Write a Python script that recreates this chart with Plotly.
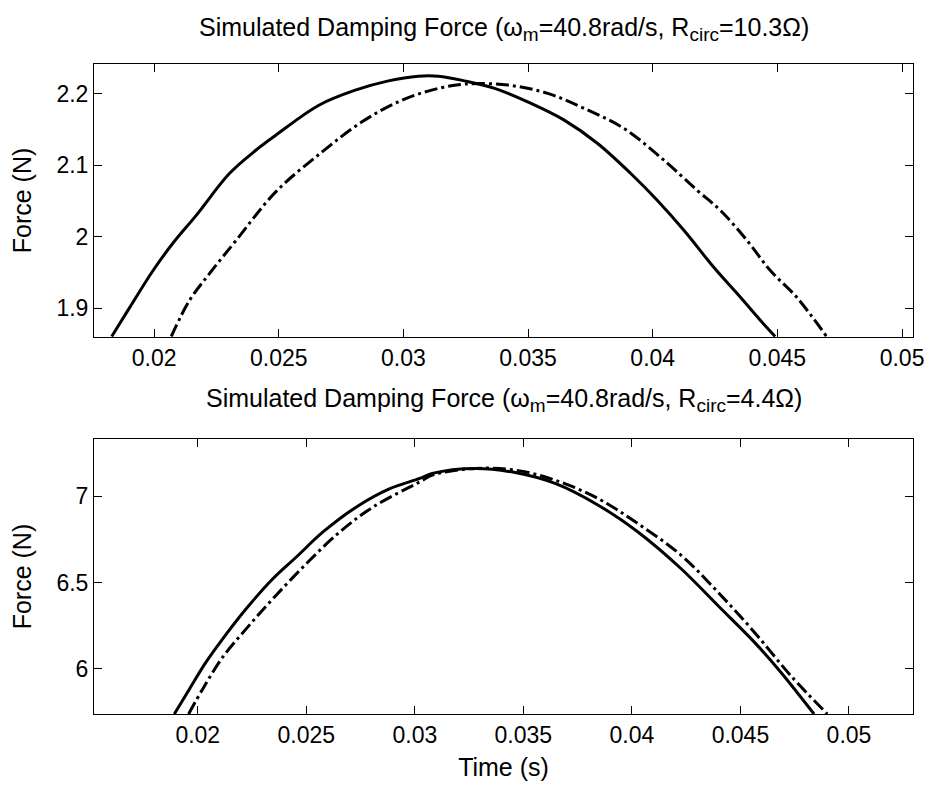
import plotly.graph_objects as go

# ---- Upper panel: R_circ = 10.3 Ohm ----
t_top_solid = [0.0183, 0.01903, 0.01996, 0.02076, 0.02169, 0.02302, 0.02408, 0.02488,
               0.02661, 0.02807, 0.0294, 0.0306, 0.0314, 0.03246, 0.03366, 0.03512,
               0.03645, 0.03779, 0.03912, 0.04018, 0.04125, 0.04244, 0.04351, 0.04444, 0.04491]
f_top_solid = [1.8608, 1.9018, 1.953, 1.9914, 2.030, 2.0885, 2.121, 2.142,
               2.184, 2.205, 2.218, 2.2245, 2.2245, 2.218, 2.2075, 2.1865,
               2.1631, 2.1305, 2.0885, 2.0511, 2.0091, 1.9578, 1.9158, 1.8785, 1.8608]

t_top_dash = [0.02069, 0.02142, 0.02222, 0.02329, 0.02488, 0.02674, 0.02834, 0.0298,
              0.03113, 0.03246, 0.03419, 0.03579, 0.03725, 0.03885, 0.04045, 0.04178,
              0.04271, 0.04378, 0.04471, 0.04577, 0.04697]
f_top_dash = [1.8608, 1.9111, 1.9485, 1.9951, 2.0628, 2.1188, 2.1608, 2.1888,
              2.2051, 2.2135, 2.2121, 2.2005, 2.1795, 2.1515, 2.1071, 2.0651,
              2.0371, 1.9951, 1.9532, 1.9158, 1.8608]

# ---- Lower panel: R_circ = 4.4 Ohm ----
t_bot_solid = [0.01892, 0.01962, 0.02038, 0.02115, 0.02223, 0.02346, 0.02454, 0.02577,
               0.02731, 0.02885, 0.03023, 0.0308, 0.03279, 0.03462, 0.03646, 0.03845,
               0.04028, 0.04227, 0.04396, 0.04564, 0.04686, 0.04839]
f_bot_solid = [5.739, 5.884, 6.039, 6.174, 6.348, 6.522, 6.648, 6.793,
               6.938, 7.044, 7.103, 7.132, 7.161, 7.137, 7.074, 6.948,
               6.793, 6.580, 6.367, 6.155, 5.981, 5.739]

t_bot_dash = [0.01958, 0.02023, 0.02115, 0.02223, 0.02346, 0.025, 0.02654, 0.02808,
              0.03023, 0.0308, 0.03279, 0.03462, 0.03646, 0.03845, 0.04028, 0.04227,
              0.04396, 0.04564, 0.04732, 0.049]
f_bot_dash = [5.739, 5.884, 6.068, 6.232, 6.406, 6.609, 6.793, 6.938,
              7.083, 7.122, 7.161, 7.151, 7.093, 6.986, 6.841, 6.658,
              6.445, 6.213, 5.961, 5.739]

# ---- Tick labels ----
top_xticks = [0.02, 0.025, 0.03, 0.035, 0.04, 0.045, 0.05]
top_xlabels = ["0.02", "0.025", "0.03", "0.035", "0.04", "0.045", "0.05"]
top_yticks = [1.9, 2.0, 2.1, 2.2]
top_ylabels = ["1.9", "2", "2.1", "2.2"]
bot_xticks = [0.02, 0.025, 0.03, 0.035, 0.04, 0.045, 0.05]
bot_xlabels = ["0.02", "0.025", "0.03", "0.035", "0.04", "0.045", "0.05"]
bot_yticks = [6.0, 6.5, 7.0]
bot_ylabels = ["6", "6.5", "7"]

SUB = "<sub><span style='font-size:19px'>{}</span></sub>"
top_title = ("Simulated Damping Force (ω" + SUB.format("m") + "=40.8rad/s, R"
             + SUB.format("circ") + "=10.3Ω)")
bot_title = ("Simulated Damping Force (ω" + SUB.format("m") + "=40.8rad/s, R"
             + SUB.format("circ") + "=4.4Ω)")

FONT = "Liberation Sans, Arial, sans-serif"
TICK_SIZE = 23
LABEL_SIZE = 25
TITLE_SIZE = 25

solid = dict(color="black", width=3)
dashdot = dict(color="black", width=3, dash="13px,4px,3px,4px")

fig = go.Figure()
fig.add_trace(go.Scatter(x=t_top_solid, y=f_top_solid, mode="lines", line=solid,
                         line_shape="spline", xaxis="x", yaxis="y"))
fig.add_trace(go.Scatter(x=t_top_dash, y=f_top_dash, mode="lines", line=dashdot,
                         line_shape="spline", xaxis="x", yaxis="y"))
fig.add_trace(go.Scatter(x=t_bot_solid, y=f_bot_solid, mode="lines", line=solid,
                         line_shape="spline", xaxis="x2", yaxis="y2"))
fig.add_trace(go.Scatter(x=t_bot_dash, y=f_bot_dash, mode="lines", line=dashdot,
                         line_shape="spline", xaxis="x2", yaxis="y2"))

axis_common = dict(showline=True, linecolor="black", linewidth=1, mirror="ticks",
                   ticks="inside", ticklen=8, tickwidth=1, tickcolor="black",
                   showgrid=False, zeroline=False,
                   tickfont=dict(family=FONT, size=TICK_SIZE, color="black"))

plot_h = 789 - 64 - 75

fig.update_layout(
    width=936, height=789,
    margin=dict(l=94, r=19, t=64, b=75),
    paper_bgcolor="white", plot_bgcolor="white",
    showlegend=False,
    font=dict(family=FONT, color="black"),
    xaxis=dict(domain=[0, 1], anchor="y", range=[0.01759, 0.05044],
               tickvals=top_xticks, ticktext=top_xlabels, **axis_common),
    yaxis=dict(domain=[0.58, 1.0], anchor="x", range=[1.860, 2.2416],
               tickvals=top_yticks, ticktext=top_ylabels, ticklabelstandoff=0,
               title=dict(text="Force (N)", font=dict(family=FONT, size=LABEL_SIZE), standoff=17),
               **axis_common),
    xaxis2=dict(domain=[0, 1], anchor="y2", range=[0.01522, 0.05295],
                tickvals=bot_xticks, ticktext=bot_xlabels,
                title=dict(text="Time (s)", font=dict(family=FONT, size=LABEL_SIZE), standoff=11),
                **axis_common),
    yaxis2=dict(domain=[0, 0.423], anchor="x2", range=[5.739, 7.331],
                tickvals=bot_yticks, ticktext=bot_ylabels, ticklabelstandoff=0,
                title=dict(text="Force (N)", font=dict(family=FONT, size=LABEL_SIZE), standoff=17),
                **axis_common),
    annotations=[
        dict(text=top_title, x=0.5, y=(714 - 29) / plot_h, xref="paper", yref="paper",
             yanchor="middle", showarrow=False, font=dict(family=FONT, size=TITLE_SIZE)),
        dict(text=bot_title, x=0.5, y=(714 - 400) / plot_h, xref="paper", yref="paper",
             yanchor="middle", showarrow=False, font=dict(family=FONT, size=TITLE_SIZE)),
    ],
)

fig.write_html("out.html")
